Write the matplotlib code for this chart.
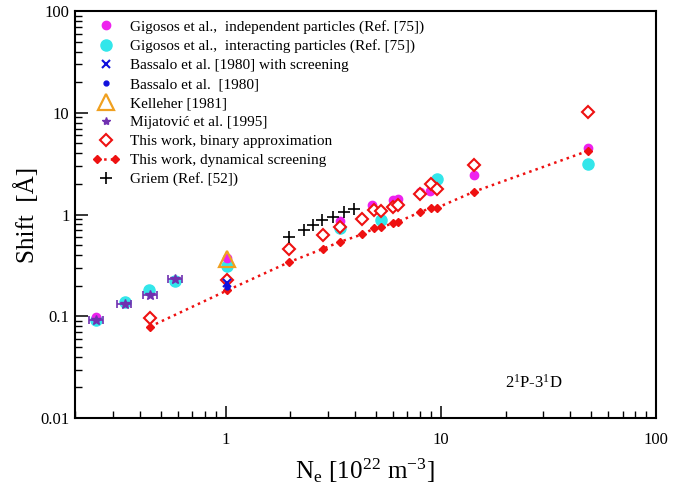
import matplotlib
matplotlib.use("Agg")
import matplotlib.pyplot as plt
from matplotlib.lines import Line2D
from matplotlib.legend_handler import HandlerLine2D

plt.rcParams['font.family'] = ['Liberation Serif', 'DejaVu Serif']
plt.rcParams['mathtext.fontset'] = 'stix'

# Gigosos et al., independent particles
gi_x = [0.25, 1.02, 3.41, 4.78, 5.97, 6.35, 7.97, 8.93, 14.3, 48.6]
gi_y = [0.098, 0.37, 0.86, 1.25, 1.38, 1.43, 1.65, 1.72, 2.43, 4.55]
# Gigosos et al., interacting particles
gc_x = [0.25, 0.34, 0.44, 0.58, 1.02, 3.41, 5.3, 9.6, 48.6]
gc_y = [0.092, 0.137, 0.18, 0.222, 0.315, 0.74, 0.88, 2.25, 3.15]
# Bassalo with screening / without
bs_x = [1.02]
bs_y = [0.212]
bn_x = [1.02]
bn_y = [0.195]
# Kelleher
ke_x = [1.02]
ke_y = [0.365]
# Mijatovic
mi_x = [0.25, 0.34, 0.445, 0.583]
mi_y = [0.093, 0.132, 0.162, 0.232]
mi_xerr_frac = [0.075, 0.075, 0.075, 0.075]
# This work, binary approximation
ba_x = [0.445, 1.02, 1.97, 2.83, 3.41, 4.33, 4.9, 5.3, 5.97, 6.35, 7.97, 9.06, 9.66, 14.3, 48.6]
ba_y = [0.097, 0.225, 0.455, 0.63, 0.76, 0.91, 1.1, 1.08, 1.18, 1.23, 1.6, 2.0, 1.78, 3.1, 10.2]
# This work, dynamical screening
ds_x = [0.445, 1.02, 1.97, 2.83, 3.41, 4.33, 4.9, 5.3, 5.97, 6.35, 7.97, 9.06, 9.66, 14.3, 48.6]
ds_y = [0.079, 0.18, 0.34, 0.46, 0.54, 0.64, 0.73, 0.75, 0.82, 0.85, 1.05, 1.17, 1.17, 1.68, 4.24]
# Griem
gr_x = [1.97, 2.31, 2.55, 2.82, 3.15, 3.54, 3.94]
gr_y = [0.605, 0.71, 0.79, 0.88, 0.94, 1.05, 1.14]

fig = plt.figure(figsize=(6.89, 4.93), dpi=100)
ax = fig.add_axes([0.109, 0.152, 0.843, 0.8256])
ax.set_xscale('log')
ax.set_yscale('log')
ax.set_xlim(0.2, 100)
ax.set_ylim(0.01, 100)

h_gc, = ax.plot(gc_x, gc_y, 'o', color='#33e6ea', ms=8, mec='#33e6ea', ls='none', zorder=2)
h_gi, = ax.plot(gi_x, gi_y, 'o', color='#ee22ee', ms=6, ls='none', zorder=3)
h_ke, = ax.plot(ke_x, ke_y, '^', mfc='none', mec='#f0a020', ms=12, mew=1.6, ls='none', zorder=3)
h_ba, = ax.plot(ba_x, ba_y, 'D', mfc='white', mec='#ee1111', ms=6.5, mew=1.5, ls='none', zorder=4)
h_ds, = ax.plot(ds_x, ds_y, 'D', color='#ee1111', ms=4.5, ls=':', lw=1.8, zorder=5)
h_bs, = ax.plot(bs_x, bs_y, 'x', color='#1010dd', ms=6, mew=1.5, ls='none', zorder=6)
h_bn, = ax.plot(bn_x, bn_y, 'o', color='#1010dd', ms=3.5, ls='none', zorder=6)
mi_err = [[x * f for x, f in zip(mi_x, mi_xerr_frac)], [x * f for x, f in zip(mi_x, mi_xerr_frac)]]
ax.errorbar(mi_x, mi_y, xerr=mi_err, fmt='*', color='#7030b0', ms=7, capsize=3,
            elinewidth=1.2, capthick=1.2, zorder=7)
h_mi = Line2D([], [], marker='*', color='#7030b0', ms=6, ls='none')
h_gr, = ax.plot(gr_x, gr_y, '+', color='black', ms=9, mew=1.2, ls='none', zorder=6)

handles = [h_gi, h_gc, h_bs, h_bn, h_ke, h_mi, h_ba, h_ds, h_gr]
labels = ['Gigosos et al.,  independent particles (Ref. [75])',
          'Gigosos et al.,  interacting particles (Ref. [75])',
          'Bassalo et al. [1980] with screening',
          'Bassalo et al.  [1980]',
          'Kelleher [1981]',
          'Mijatović et al. [1995]',
          'This work, binary approximation',
          'This work, dynamical screening',
          'Griem (Ref. [52])']
hmap = {h: HandlerLine2D(numpoints=1) for h in handles if h is not h_ds}
hmap[h_ds] = HandlerLine2D(numpoints=2)
ax.legend(handles, labels, handler_map=hmap, loc='upper left', frameon=False,
          fontsize=11, handlelength=1.8, handletextpad=0.65, labelspacing=0.345,
          borderaxespad=0.0, bbox_to_anchor=(0.019, 0.993))

ax.text(0.741, 0.0735, r'$\mathregular{2^1P}$-$\mathregular{3^1D}$', transform=ax.transAxes,
        fontsize=12, va='baseline')

ax.set_xticks([1, 10, 100])
ax.set_xticklabels(['1', '10', '100'])
ax.set_yticks([0.01, 0.1, 1, 10, 100])
ax.set_yticklabels(['0.01', '0.1', '1', '10', '100'])
ax.tick_params(which='both', direction='in', top=False, right=False, labelsize=12)
ax.tick_params(which='major', length=9, width=1.1)
ax.tick_params(axis='x', which='major', pad=10)
ax.tick_params(axis='y', which='major', pad=4)
ax.tick_params(which='minor', length=5, width=1.0)
ax.yaxis.set_minor_formatter(matplotlib.ticker.NullFormatter())
ax.xaxis.set_minor_formatter(matplotlib.ticker.NullFormatter())
for s in ax.spines.values():
    s.set_linewidth(1.5)

ax.set_xlabel(r'N$_\mathregular{e}$ [10$^{\mathregular{22}}$ m$^{\mathregular{-3}}$]', fontsize=18, labelpad=6)
ax.set_ylabel('Shift  [Å]', fontsize=18, labelpad=1)

fig.savefig('out.png', dpi=100)
